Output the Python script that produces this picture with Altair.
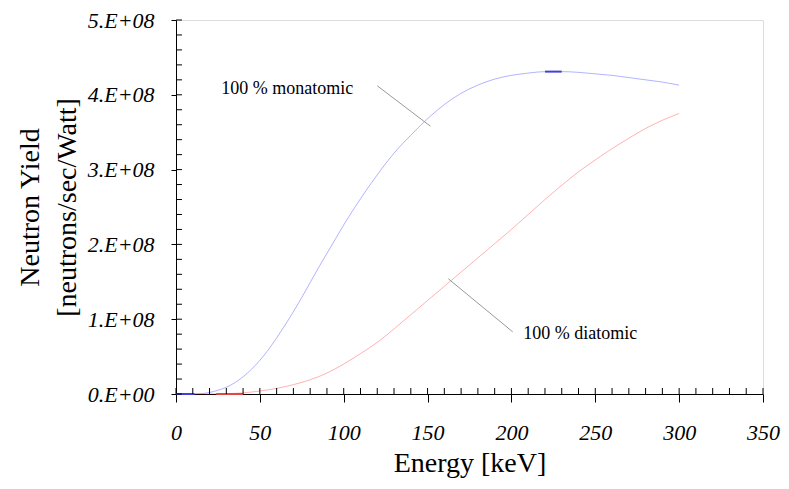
import altair as alt
import pandas as pd

# Monatomic (blue) curve: energy [keV] and yield [1e8 neutrons/sec/Watt]
mono_kev = [0, 10, 15, 20, 25, 30, 35, 40, 45, 50, 55, 60, 65, 70, 75, 80, 85, 90, 95,
            100, 110, 120, 130, 140, 150, 160, 170, 180, 190, 200, 210, 220, 230, 240,
            250, 260, 270, 280, 290, 300]
mono_yield = [0, 0, 0.005, 0.02, 0.05, 0.09, 0.15, 0.23, 0.33, 0.45, 0.59, 0.75, 0.92,
              1.10, 1.29, 1.49, 1.69, 1.88, 2.07, 2.26, 2.61, 2.93, 3.22, 3.46, 3.68,
              3.87, 4.02, 4.13, 4.21, 4.26, 4.29, 4.31, 4.31, 4.30, 4.28, 4.26, 4.23,
              4.20, 4.17, 4.13]

# Diatomic (red) curve
dia_kev = [11, 20, 30, 40, 50, 60, 70, 80, 90, 100, 110, 120, 130, 140, 150, 160, 170,
           180, 190, 200, 210, 220, 230, 240, 250, 260, 270, 280, 290, 300]
dia_yield = [0, 0, 0.005, 0.015, 0.04, 0.075, 0.125, 0.19, 0.28, 0.40, 0.54, 0.69, 0.87,
             1.06, 1.25, 1.44, 1.63, 1.82, 2.01, 2.20, 2.40, 2.60, 2.79, 2.97, 3.13,
             3.28, 3.42, 3.55, 3.66, 3.75]

# Highlighted short segments drawn more heavily in the original
seg_series = ["mono", "dia", "mono"]
seg_kev_start = [0, 24, 220]
seg_kev_end = [11, 40, 230]
seg_yield = [0, 0, 4.31]

# Annotation labels and leader lines
label_text = ["100 % monatomic", "100 % diatomic"]
label_kev = [27, 207]
label_yield = [4.08, 0.80]
leader_kev_start = [120, 162.4]
leader_yield_start = [4.12, 1.54]
leader_kev_end = [151.7, 200.8]
leader_yield_end = [3.58, 0.83]

x_major = [0, 50, 100, 150, 200, 250, 300, 350]
x_minor = list(range(0, 351, 10))
y_minor = [v * 0.2 for v in range(0, 26)]

E8 = 1e8
FONT = "Liberation Serif"
W, H = 587, 374

mono_df = pd.DataFrame({"kev": mono_kev, "y": [v * E8 for v in mono_yield]})
dia_df = pd.DataFrame({"kev": dia_kev, "y": [v * E8 for v in dia_yield]})
seg_df = pd.DataFrame({"s": seg_series, "k1": seg_kev_start, "k2": seg_kev_end,
                       "y": [v * E8 for v in seg_yield]})
lab_df = pd.DataFrame({"t": label_text, "kev": label_kev, "y": [v * E8 for v in label_yield]})
lead_df = pd.DataFrame({"k1": leader_kev_start, "y1": [v * E8 for v in leader_yield_start],
                        "k2": leader_kev_end, "y2": [v * E8 for v in leader_yield_end]})
xm_df = pd.DataFrame({"kev": x_minor})
ym_df = pd.DataFrame({"y": [v * E8 for v in y_minor]})

xscale = alt.Scale(domain=[0, 350], nice=False, zero=False)
yscale = alt.Scale(domain=[0, 5e8], nice=False)

xaxis = alt.Axis(values=x_major, tickSize=8, grid=False, domainColor="black",
                 tickColor="black", labelFont=FONT, labelFontStyle="italic",
                 labelFontSize=22, labelColor="black", labelPadding=20, labelFlush=False,
                 title="Energy [keV]", titleFont=FONT, titleFontSize=28,
                 titleFontWeight="normal", titleColor="black", titlePadding=6)
yaxis = alt.Axis(values=[0, 1e8, 2e8, 3e8, 4e8, 5e8], tickSize=5, grid=False,
                 domainColor="black", tickColor="black", labelFont=FONT,
                 labelFontStyle="italic", labelFontSize=22, labelColor="black",
                 labelPadding=17, labelFlush=False,
                 labelExpr="datum.value == 0 ? '0.E+00' : (datum.value / 1e8) + '.E+08'",
                 title=["Neutron Yield", "[neutrons/sec/Watt]"], titleFont=FONT,
                 titleFontSize=28, titleFontWeight="normal", titleColor="black",
                 titlePadding=6, titleLineHeight=37)

mono = alt.Chart(mono_df).mark_line(color="#0000ff", opacity=0.3, strokeWidth=1,
                                    interpolate="monotone").encode(
    x=alt.X("kev:Q", scale=xscale, axis=xaxis),
    y=alt.Y("y:Q", scale=yscale, axis=yaxis),
)
dia = alt.Chart(dia_df).mark_line(color="#ff0000", opacity=0.3, strokeWidth=1,
                                  interpolate="monotone").encode(
    x=alt.X("kev:Q", scale=xscale),
    y=alt.Y("y:Q", scale=yscale),
)
segs = alt.Chart(seg_df).mark_rule(strokeWidth=2).encode(
    x=alt.X("k1:Q", scale=xscale), x2="k2:Q",
    y=alt.Y("y:Q", scale=yscale),
    color=alt.Color("s:N", scale=alt.Scale(domain=["mono", "dia"],
                                           range=["#4040e0", "#e04848"]), legend=None),
)
xticks = alt.Chart(xm_df).mark_rule(color="black", strokeWidth=1).encode(
    x=alt.X("kev:Q", scale=xscale), y=alt.value(H), y2=alt.value(H - 6))
yticks = alt.Chart(ym_df).mark_rule(color="black", strokeWidth=1).encode(
    y=alt.Y("y:Q", scale=yscale), x=alt.value(0), x2=alt.value(6))
leaders = alt.Chart(lead_df).mark_rule(color="#999999", strokeWidth=1).encode(
    x=alt.X("k1:Q", scale=xscale), y=alt.Y("y1:Q", scale=yscale), x2="k2:Q", y2="y2:Q")
labels = alt.Chart(lab_df).mark_text(font=FONT, fontSize=18, align="left",
                                     baseline="middle", color="black").encode(
    x=alt.X("kev:Q", scale=xscale), y=alt.Y("y:Q", scale=yscale), text="t:N")

chart = alt.layer(mono, dia, segs, xticks, yticks, leaders, labels).properties(
    width=W, height=H,
    padding={"left": 168, "top": 12, "right": 18, "bottom": 87},
    autosize=alt.AutoSizeParams(type="none"),
).configure_view(stroke=None).configure(background="white")

chart.save("out.html", embed_options={"renderer": "svg", "actions": False})
